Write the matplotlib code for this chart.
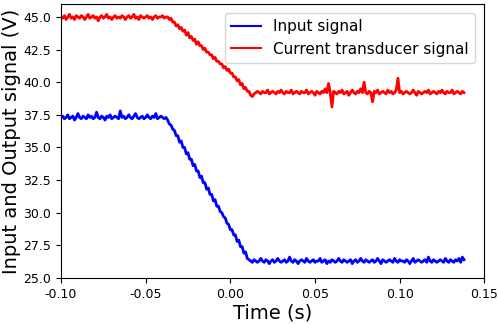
import numpy as np
import matplotlib
matplotlib.use("Agg")
import matplotlib.pyplot as plt

# time axis: 1 ms sampling from -0.100 s to 0.138 s
t_start, t_end, n_samples = -0.100, 0.138, 239

input_flat_before = [
    37.3, 37.4, 37.2, 37.3, 37.5, 37.2, 37.3, 37.4, 37.1, 37.3,
    37.6, 37.3, 37.2, 37.4, 37.3, 37.2, 37.5, 37.3, 37.4, 37.2,
    37.3, 37.7, 37.3, 37.2, 37.4, 37.3, 37.1, 37.4, 37.3, 37.5,
    37.2, 37.3, 37.4, 37.3, 37.2, 37.8, 37.3, 37.4, 37.2, 37.3,
    37.5, 37.3, 37.2, 37.4, 37.6, 37.3, 37.2, 37.3, 37.4, 37.2,
    37.3, 37.5, 37.3, 37.2, 37.4, 37.3, 37.6, 37.2, 37.3, 37.4,
    37.3, 37.2, 37.3]
input_ramp = [
    37.1, 36.8, 36.7, 36.4, 36.3, 35.9, 35.9, 35.4, 35.5, 35.0,
    35.0, 34.5, 34.6, 34.1, 34.1, 33.6, 33.7, 33.2, 33.2, 32.7,
    32.8, 32.3, 32.3, 31.8, 31.9, 31.4, 31.4, 30.9, 31.0, 30.5,
    30.5, 30.1, 30.0, 29.7, 29.6, 29.2, 29.1, 28.7, 28.7, 28.3,
    28.3, 27.8, 27.9, 27.4, 27.4, 26.9, 27.0, 26.5, 26.4]
input_flat_after = [
    26.3, 26.2, 26.4, 26.3, 26.2, 26.3, 26.5, 26.3, 26.2, 26.4,
    26.3, 26.1, 26.3, 26.4, 26.2, 26.3, 26.5, 26.3, 26.2, 26.3,
    26.4, 26.2, 26.3, 26.6, 26.3, 26.2, 26.4, 26.3, 26.1, 26.3,
    26.4, 26.3, 26.2, 26.5, 26.3, 26.2, 26.3, 26.4, 26.2, 26.3,
    26.3, 26.5, 26.2, 26.3, 26.4, 26.1, 26.3, 26.2, 26.4, 26.3,
    26.2, 26.3, 26.5, 26.3, 26.2, 26.4, 26.3, 26.2, 26.3, 26.4,
    26.1, 26.3, 26.4, 26.2, 26.3, 26.5, 26.3, 26.2, 26.4, 26.3,
    26.2, 26.3, 26.4, 26.2, 26.3, 26.5, 26.3, 26.1, 26.4, 26.3,
    26.2, 26.3, 26.4, 26.3, 26.2, 26.5, 26.3, 26.2, 26.4, 26.3,
    26.3, 26.2, 26.4, 26.3, 26.1, 26.3, 26.5, 26.2, 26.3, 26.4,
    26.3, 26.2, 26.3, 26.4, 26.2, 26.6, 26.3, 26.2, 26.4, 26.3,
    26.2, 26.3, 26.4, 26.3, 26.2, 26.5, 26.3, 26.2, 26.4, 26.3,
    26.2, 26.4, 26.3, 26.5, 26.2, 26.6, 26.4]

current_flat_before = [
    45.0, 44.9, 45.1, 44.8, 45.0, 45.2, 44.9, 45.0, 44.8, 45.1,
    45.0, 44.9, 45.1, 45.0, 44.8, 45.0, 45.2, 44.9, 45.0, 45.1,
    44.9, 45.0, 44.7, 45.0, 45.1, 44.9, 45.0, 45.2, 44.9, 45.0,
    44.8, 45.0, 45.1, 44.9, 45.0, 44.9, 45.1, 45.0, 44.8, 45.0,
    45.1, 44.9, 45.0, 45.2, 44.9, 45.0, 44.8, 45.1, 45.0, 44.9,
    45.0, 45.1, 44.9, 45.0, 44.8, 45.0, 45.1, 44.9, 45.0, 45.0,
    45.1, 44.9, 45.0]
current_ramp = [
    45.0, 44.8, 44.9, 44.6, 44.6, 44.3, 44.4, 44.1, 44.2, 43.9,
    44.0, 43.6, 43.8, 43.4, 43.5, 43.2, 43.3, 42.9, 43.1, 42.8,
    42.8, 42.5, 42.6, 42.3, 42.3, 42.1, 42.1, 41.8, 41.9, 41.6,
    41.6, 41.4, 41.4, 41.1, 41.2, 40.9, 41.0, 40.7, 40.7, 40.4,
    40.4, 40.1, 40.2, 39.8, 39.9, 39.5, 39.6, 39.3, 39.3, 39.0,
    38.9]
current_flat_after = [
    39.1, 39.2, 39.3, 39.2, 39.1, 39.3, 39.2, 39.2, 39.4, 39.1,
    39.2, 39.3, 39.2, 39.1, 39.3, 39.2, 39.4, 39.2, 39.1, 39.3,
    39.2, 39.2, 39.4, 39.1, 39.2, 39.3, 39.2, 39.1, 39.3, 39.2,
    39.2, 39.4, 39.1, 39.2, 39.3, 39.2, 39.0, 39.3, 39.2, 39.1,
    39.3, 39.2, 39.5, 39.2, 39.9, 39.2, 38.1, 39.3, 39.2, 39.1,
    39.3, 39.2, 39.4, 39.1, 39.2, 39.3, 39.0, 39.2, 39.4, 39.2,
    39.1, 39.3, 39.2, 39.5, 39.2, 40.0, 39.2, 39.1, 39.3, 39.2,
    38.5, 39.3, 39.2, 39.4, 39.1, 39.2, 39.3, 39.2, 39.1, 39.4,
    39.2, 39.3, 39.1, 39.2, 39.4, 40.3, 39.2, 39.3, 39.1, 39.2,
    39.3, 39.2, 39.1, 39.2, 39.4, 39.2, 39.0, 39.3, 39.2, 39.1,
    39.2, 39.3, 39.2, 39.4, 39.1, 39.2, 39.3, 39.2, 39.1, 39.3,
    39.2, 39.4, 39.2, 39.1, 39.3, 39.2, 39.2, 39.4, 39.1, 39.2,
    39.3, 39.2, 39.1, 39.3, 39.2]

x_ticks = [-0.10, -0.05, 0.00, 0.05, 0.10, 0.15]
y_ticks = [25.0, 27.5, 30.0, 32.5, 35.0, 37.5, 40.0, 42.5, 45.0]

time = np.linspace(t_start, t_end, n_samples)
input_signal = np.array(input_flat_before + input_ramp + input_flat_after)
current_signal = np.array(current_flat_before + current_ramp + current_flat_after)

fig = plt.figure(figsize=(4.98, 3.24), dpi=100)
ax = fig.add_axes([0.1225, 0.142, 0.850, 0.846])
ax.plot(time, input_signal, color="blue", lw=2.0, label="Input signal")
ax.plot(time, current_signal, color="red", lw=2.0, label="Current transducer signal")
ax.set_xlim(-0.10, 0.15)
ax.set_ylim(25.0, 46.0)
ax.set_xticks(x_ticks)
ax.set_xticklabels([f"{v:.2f}" for v in x_ticks])
ax.set_yticks(y_ticks)
ax.set_yticklabels([f"{v:.1f}" for v in y_ticks])
ax.tick_params(labelsize=9)
ax.set_xlabel("Time (s)", fontsize=14, labelpad=2)
ax.set_ylabel("Input and Output signal (V)", fontsize=14, labelpad=2)
leg = ax.legend(loc="upper right", fontsize=11, borderaxespad=0.6)
for h in leg.get_lines():
    h.set_linewidth(1.5)
fig.savefig("out.png", dpi=100)
